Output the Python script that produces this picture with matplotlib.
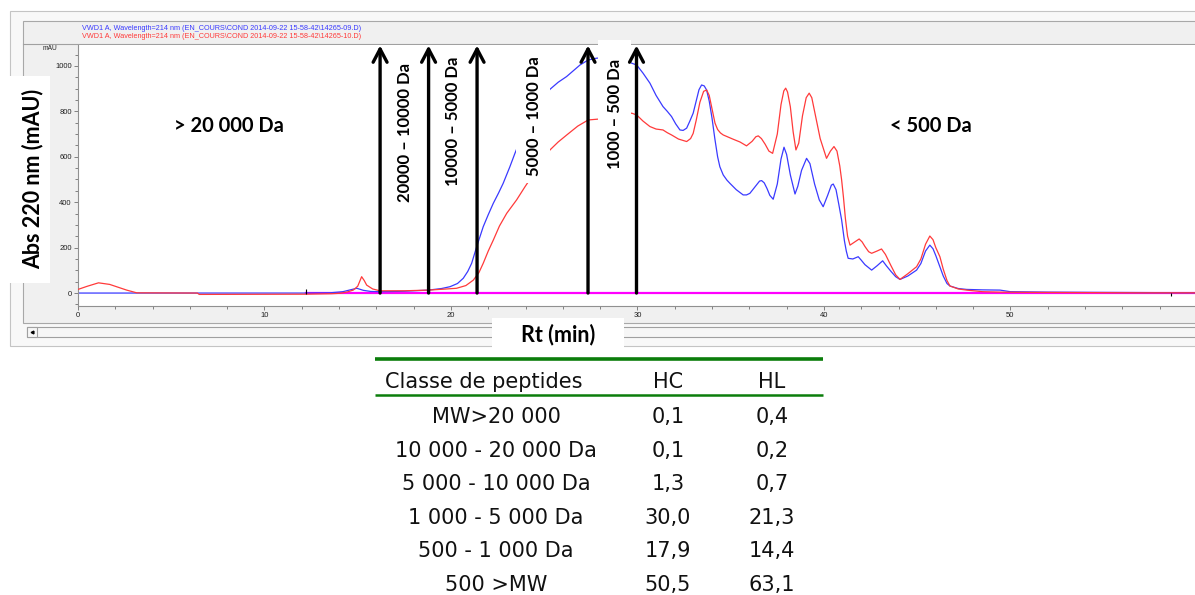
import matplotlib
matplotlib.use("Agg")
import matplotlib.pyplot as plt
from matplotlib.patches import Rectangle
from matplotlib.ticker import MultipleLocator

# ==========================================
# 1. Data, (Rt min, mAU)
# ==========================================
blue_pts = [
    (0.0, 0), (3.2, 0), (6.4, 0), (12.2, 0), (13.5, 1), (14.2, 6), (14.6, 14),
    (14.95, 21), (15.3, 12), (15.7, 7), (16.2, 6), (17.5, 8), (18.8, 13),
    (19.5, 20), (19.95, 28), (20.35, 42), (20.66, 65), (20.9, 95), (21.11, 131),
    (21.38, 204), (21.73, 292), (22.0, 345), (22.27, 395), (22.55, 440),
    (22.8, 483), (23.16, 556), (23.43, 615), (23.8, 690), (24.3, 770),
    (24.8, 840), (25.31, 897), (25.75, 928), (26.2, 953), (26.55, 978),
    (26.92, 1004), (27.36, 1026), (27.81, 1034), (28.3, 1036), (28.9, 1030),
    (29.4, 1020), (29.69, 1012), (29.96, 1004), (30.3, 968), (30.67, 924),
    (31.0, 870), (31.37, 821), (31.6, 800), (31.83, 777), (32.05, 745),
    (32.28, 718), (32.45, 716), (32.64, 726), (32.8, 755), (32.99, 792),
    (33.15, 845), (33.3, 895), (33.44, 916), (33.58, 912), (33.71, 894),
    (33.85, 845), (34.0, 770), (34.15, 680), (34.3, 600), (34.42, 556),
    (34.6, 520), (34.8, 497), (34.96, 483), (35.3, 455), (35.67, 432),
    (35.85, 432), (36.03, 439), (36.35, 472), (36.55, 493), (36.66, 495),
    (36.8, 485), (36.95, 460), (37.1, 430), (37.28, 413), (37.5, 480),
    (37.7, 590), (37.86, 642), (38.0, 610), (38.2, 520), (38.45, 436),
    (38.6, 470), (38.8, 540), (39.07, 593), (39.25, 570), (39.5, 480),
    (39.75, 410), (39.96, 380), (40.2, 430), (40.4, 475), (40.5, 480),
    (40.65, 455), (40.8, 390), (40.95, 322), (41.1, 230), (41.2, 185),
    (41.3, 153), (41.55, 150), (41.84, 160), (42.0, 145), (42.2, 125),
    (42.56, 101), (42.85, 120), (43.15, 142), (43.35, 120), (43.6, 95),
    (43.85, 72), (44.08, 60), (44.5, 75), (44.97, 101), (45.2, 130),
    (45.45, 185), (45.68, 211), (45.85, 195), (46.0, 165), (46.22, 116),
    (46.4, 75), (46.6, 42), (46.76, 31), (47.2, 20), (47.65, 16), (48.5, 14),
    (49.44, 13), (50.0, 6), (52.0, 4), (55.0, 3), (58.0, 2), (60.0, 1),
]
red_pts = [
    (0.0, 16), (0.5, 30), (1.1, 45), (1.7, 38), (2.2, 24), (2.61, 13),
    (3.15, 1), (6.4, 0), (6.5, -6), (12.2, -5), (13.6, -3), (14.05, -1),
    (14.45, 5), (14.76, 13), (15.0, 30), (15.21, 72), (15.35, 55),
    (15.48, 35), (15.8, 18), (16.19, 10), (17.5, 10), (18.8, 13), (19.6, 17),
    (20.3, 21), (20.8, 33), (21.2, 57), (21.5, 90), (21.73, 131), (22.0, 185),
    (22.27, 233), (22.6, 295), (22.99, 351), (23.52, 410), (23.97, 468),
    (24.6, 545), (25.31, 630), (25.75, 665), (26.21, 696), (26.8, 735),
    (27.36, 762), (27.81, 765), (28.5, 770), (29.2, 780), (29.69, 792),
    (29.96, 784), (30.3, 757), (30.67, 733), (31.0, 722), (31.37, 718),
    (31.6, 706), (31.83, 696), (32.2, 678), (32.64, 667), (32.85, 680),
    (32.99, 703), (33.15, 760), (33.35, 840), (33.55, 888), (33.71, 894),
    (33.85, 870), (34.0, 810), (34.16, 748), (34.3, 720), (34.45, 705),
    (34.6, 696), (35.14, 677), (35.5, 665), (35.85, 648), (36.15, 668),
    (36.35, 688), (36.48, 692), (36.65, 680), (36.85, 655), (37.05, 625),
    (37.25, 615), (37.5, 700), (37.7, 830), (37.85, 890), (37.95, 902),
    (38.05, 885), (38.2, 820), (38.35, 710), (38.5, 630), (38.65, 660),
    (38.85, 780), (39.05, 860), (39.21, 880), (39.35, 860), (39.55, 780),
    (39.8, 680), (40.14, 593), (40.35, 625), (40.54, 645), (40.7, 625),
    (40.85, 560), (40.95, 498), (41.05, 420), (41.15, 330), (41.27, 250),
    (41.4, 211), (41.65, 225), (41.89, 238), (42.05, 225), (42.2, 205),
    (42.4, 182), (42.56, 175), (42.85, 185), (43.09, 194), (43.3, 170),
    (43.6, 120), (43.85, 80), (44.08, 60), (44.5, 85), (44.97, 116),
    (45.2, 150), (45.45, 215), (45.68, 251), (45.85, 235), (46.0, 200),
    (46.22, 160), (46.4, 105), (46.6, 55), (46.76, 31), (47.2, 18),
    (47.65, 13), (48.5, 6), (49.5, 4), (51.0, 3), (54.0, 2), (57.0, 1),
    (60.0, 1),
]
rt_blue, abs_blue = zip(*blue_pts)
rt_red, abs_red = zip(*red_pts)

# integration baseline and event marks
baseline_rt = [12.2, 60.0]
baseline_abs = [0, 0]
event_rt = [12.2, 58.6]

# fraction cuts (min) and their labels
cut_rt = [16.2, 18.8, 21.4, 27.35, 29.95]
range_labels = ["20000 \u2013 10000 Da", "10000 \u2013 5000 Da",
                "5000 \u2013 1000 Da", "1000 \u2013 500 Da"]

legend_blue = "VWD1 A, Wavelength=214 nm (EN_COURS\\COND 2014-09-22 15-58-42\\14265-09.D)"
legend_red = "VWD1 A, Wavelength=214 nm (EN_COURS\\COND 2014-09-22 15-58-42\\14265-10.D)"

# table
table_header = ["Classe de peptides", "HC", "HL"]
classes = ["MW>20 000", "10 000 - 20 000 Da", "5 000 - 10 000 Da",
           "1 000 - 5 000 Da", "500 - 1 000 Da", "500 >MW"]
hc = [0.1, 0.1, 1.3, 30.0, 17.9, 50.5]
hl = [0.4, 0.2, 0.7, 21.3, 14.4, 63.1]

BLUE = "#3a3aff"
RED = "#ff3a3a"
GREEN = "#0b7d0b"
W, H = 1195, 595

# ==========================================
# 2. Figure, background "window" (pixel coords)
# ==========================================
fig = plt.figure(figsize=(W / 100, H / 100), dpi=100)


def px_rect(x0, y0, x1, y1):
    return [x0 / W, 1 - y1 / H, (x1 - x0) / W, (y1 - y0) / H]


bg = fig.add_axes([0, 0, 1, 1], zorder=0)
bg.set_xlim(0, W)
bg.set_ylim(H, 0)
bg.axis("off")

bg.add_patch(Rectangle((10, 11), 1200, 335, fc="#f8f8f8", ec="#c4c4c4", lw=0.8))
bg.add_patch(Rectangle((23, 21), 1200, 302, fc="#f0f0f0", ec="#a8a8a8", lw=0.8))
bg.plot([23, W], [44, 44], color="#a0a0a0", lw=0.8)
bg.add_patch(Rectangle((27, 327), 1200, 10, fc="#f6f6f6", ec="#a0a0a0", lw=0.8))
bg.add_patch(Rectangle((27, 327), 10, 10, fc="#f6f6f6", ec="#a0a0a0", lw=0.8))
bg.plot([32], [332], marker="<", ms=2, color="black")

bg.text(82, 28, legend_blue, color=BLUE, fontsize=5.2, va="center",
        family="Liberation Sans")
bg.text(82, 36.5, legend_red, color=RED, fontsize=5.2, va="center",
        family="Liberation Sans")
bg.text(50, 49, "mAU", fontsize=4.8, ha="center", va="center",
        family="Liberation Sans", color="#202020")

# ==========================================
# 3. Chromatogram axes
# ==========================================
ax = fig.add_axes(px_rect(78, 45, 1195, 306), zorder=1)
ax.set_facecolor("white")
ax.set_xlim(0, 59.9)
ax.set_ylim(-57, 1092)

ax.plot(baseline_rt, baseline_abs, color="#ff00ff", lw=1.6, zorder=1)
ax.plot(rt_blue, abs_blue, color=BLUE, lw=0.9, zorder=2)
ax.plot(rt_red, abs_red, color=RED, lw=0.9, zorder=3)
ax.vlines(event_rt, [-2, -14], [18, 2], color="black", lw=0.8, zorder=4)

for s in ["top", "right"]:
    ax.spines[s].set_visible(False)
for s in ["left", "bottom"]:
    ax.spines[s].set_color("#909090")
    ax.spines[s].set_linewidth(0.8)

ax.xaxis.set_major_locator(MultipleLocator(10))
ax.xaxis.set_minor_locator(MultipleLocator(2))
ax.yaxis.set_major_locator(MultipleLocator(200))
ax.yaxis.set_minor_locator(MultipleLocator(50))
ax.tick_params(which="both", direction="out", color="#808080", width=0.7,
               labelsize=5.5, labelcolor="#202020", pad=1.5)
ax.tick_params(which="major", length=3)
ax.tick_params(which="minor", length=2.2)
for lab in ax.get_xticklabels() + ax.get_yticklabels():
    lab.set_family("Liberation Sans")

# ==========================================
# 4. Overlay: annotations and table
# ==========================================
ov = fig.add_axes([0, 0, 1, 1], zorder=2)
ov.set_xlim(0, W)
ov.set_ylim(H, 0)
ov.axis("off")
ov.patch.set_alpha(0)

# white boxes pasted over the screenshot
ov.add_patch(Rectangle((0, 76), 50, 207, fc="white", ec="none", zorder=2))
ov.add_patch(Rectangle((492, 318), 132, 33, fc="white", ec="none", zorder=2))
ov.add_patch(Rectangle((516, 50), 34, 133, fc="white", ec="none", zorder=2))
ov.add_patch(Rectangle((598, 40), 33, 135, fc="white", ec="none", zorder=2))

for x in cut_rt:
    ov.annotate("", xy=(x, 1090), xytext=(x, 0),
                xycoords=ax.transData, textcoords=ax.transData,
                arrowprops=dict(arrowstyle="->,head_length=0.95,head_width=0.5",
                                lw=2.4, color="black", shrinkA=0, shrinkB=0),
                annotation_clip=False, zorder=3)

lab_font = dict(family="Lato", fontweight="bold", color="black", zorder=4)
label_pos = [(405, 132), (453, 121), (534, 116), (615, 114)]
for (lx, ly), txt in zip(label_pos, range_labels):
    ov.text(lx, ly, txt, rotation=90, ha="center", va="center", fontsize=12, **lab_font)

ov.text(229, 126, "> 20 000 Da", ha="center", va="center", fontsize=14.5, **lab_font)
ov.text(931, 126, "< 500 Da", ha="center", va="center", fontsize=14.5, **lab_font)
ov.text(32.5, 179, "Abs 220 nm (mAU)", rotation=90, ha="center", va="center",
        fontsize=15.5, **lab_font)
ov.text(558, 335, "Rt (min)", ha="center", va="center", fontsize=15.5, **lab_font)

# table
ov.plot([375, 823], [359, 359], color=GREEN, lw=2.6, solid_capstyle="butt")
ov.plot([375, 823], [395, 395], color=GREEN, lw=1.8, solid_capstyle="butt")
tab_font = dict(family="DejaVu Sans", fontsize=15, color="#111111", va="center")
ov.text(385, 382, table_header[0], ha="left", **tab_font)
ov.text(668, 382, table_header[1], ha="center", **tab_font)
ov.text(772, 382, table_header[2], ha="center", **tab_font)
for i, (c, a, b) in enumerate(zip(classes, hc, hl)):
    y = 417 + i * 33.6
    ov.text(496, y, c, ha="center", **tab_font)
    ov.text(668, y, f"{a:.1f}".replace(".", ","), ha="center", **tab_font)
    ov.text(772, y, f"{b:.1f}".replace(".", ","), ha="center", **tab_font)

fig.savefig("out.png", dpi=100)
